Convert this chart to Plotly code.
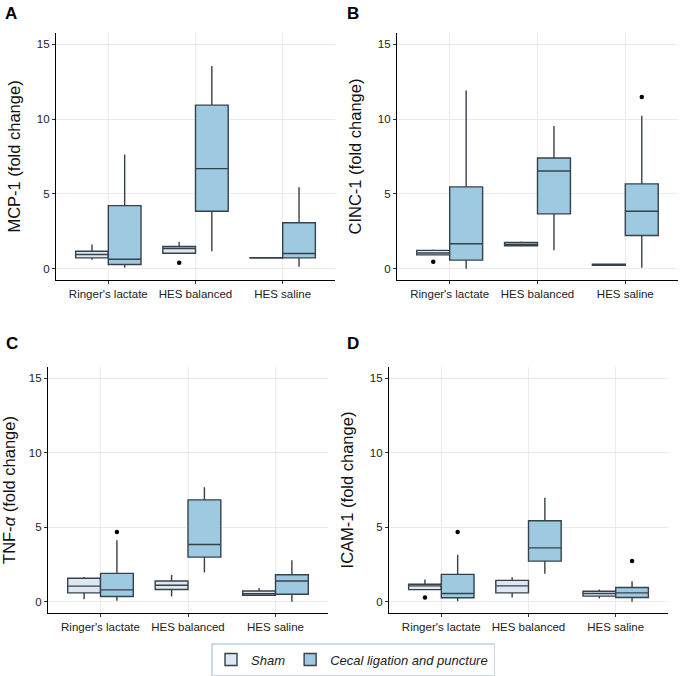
import numpy as np
import plotly.graph_objects as go

# ---------------- data ----------------
categories = ["Ringer's lactate", "HES balanced", "HES saline"]
panels = ["A", "B", "C", "D"]
ytitles = ["MCP-1 (fold change)", "CINC-1 (fold change)",
           "TNF-<i>α</i> (fold change)", "ICAM-1 (fold change)"]

# Sham group stats per panel (lower whisker, q1, median, q3, upper whisker)
sham_lo = [[0.60, 1.04, 0.71], [0.93, 1.53, 0.24], [0.18, 0.36, 0.44], [0.82, 0.29, 0.22]]
sham_q1 = [[0.73, 1.04, 0.71], [0.93, 1.53, 0.24], [0.60, 0.83, 0.44], [0.82, 0.60, 0.38]]
sham_med = [[0.95, 1.35, 0.72], [1.05, 1.62, 0.27], [1.05, 1.11, 0.55], [1.07, 1.07, 0.56]]
sham_q3 = [[1.17, 1.49, 0.74], [1.23, 1.76, 0.30], [1.58, 1.40, 0.73], [1.18, 1.44, 0.71]]
sham_hi = [[1.62, 1.80, 0.74], [1.29, 1.83, 0.30], [1.67, 1.80, 0.93], [1.49, 1.64, 0.82]]

# CLP group stats per panel
clp_lo = [[0.07, 1.17, 0.13], [0.00, 1.24, 0.07], [0.07, 1.96, 0.00], [0.04, 1.89, 0.00]]
clp_q1 = [[0.29, 3.84, 0.73], [0.58, 3.67, 2.22], [0.36, 3.00, 0.51], [0.27, 2.73, 0.29]]
clp_med = [[0.64, 6.69, 1.02], [1.67, 6.53, 3.84], [0.80, 3.84, 1.40], [0.56, 3.62, 0.60]]
clp_q3 = [[4.22, 10.93, 3.07], [5.47, 7.40, 5.67], [1.91, 6.84, 1.82], [1.84, 5.44, 0.96]]
clp_hi = [[7.64, 13.55, 5.44], [11.91, 9.53, 10.22], [4.13, 7.69, 2.78], [3.16, 6.98, 1.38]]

# Outliers: (category index, value)
sham_out_cat = [[1], [0], [], [0]]
sham_out_val = [[0.40], [0.47], [], [0.29]]
clp_out_cat = [[], [2], [0], [0, 2]]
clp_out_val = [[], [11.47], [4.69], [4.69, 2.73]]

yticks = [0, 5, 10, 15]

# ---------------- style ----------------
FONT = "Liberation Sans, Arial, sans-serif"
SHAM_FILL = "#dde8f3"
CLP_FILL = "#9ecae1"
EDGE = "#37414a"
BOX_W = 0.375
DODGE = BOX_W / 2

W, H = 680, 676
# pixel domains (left, right, top, bottom) of each panel
dom_px = [(56, 335, 33, 280), (397, 678, 33, 280),
          (48, 328, 367, 613), (389, 668, 367, 613)]
label_px = [(11, 13), (353, 13), (12, 343), (353, 343)]

fig = go.Figure()
cat_idx = np.arange(1, len(categories) + 1)

for p in range(4):
    sfx = "" if p == 0 else str(p + 1)
    xa, ya = "x" + sfx, "y" + sfx
    fig.add_trace(go.Box(
        x=list(cat_idx - DODGE), q1=sham_q1[p], median=sham_med[p], q3=sham_q3[p],
        lowerfence=sham_lo[p], upperfence=sham_hi[p], width=BOX_W,
        fillcolor=SHAM_FILL, line=dict(color=EDGE, width=1.4), whiskerwidth=0,
        boxpoints=False, name="Sham", legendgroup="sham", showlegend=(p == 0),
        xaxis=xa, yaxis=ya, hoverinfo="skip"))
    fig.add_trace(go.Box(
        x=list(cat_idx + DODGE), q1=clp_q1[p], median=clp_med[p], q3=clp_q3[p],
        lowerfence=clp_lo[p], upperfence=clp_hi[p], width=BOX_W,
        fillcolor=CLP_FILL, line=dict(color=EDGE, width=1.4), whiskerwidth=0,
        boxpoints=False, name="Cecal ligation and puncture", legendgroup="clp",
        showlegend=(p == 0), xaxis=xa, yaxis=ya, hoverinfo="skip"))
    if sham_out_val[p]:
        fig.add_trace(go.Scatter(
            x=[cat_idx[i] - DODGE for i in sham_out_cat[p]], y=sham_out_val[p],
            mode="markers", marker=dict(color="black", size=4.5),
            showlegend=False, xaxis=xa, yaxis=ya, hoverinfo="skip"))
    if clp_out_val[p]:
        fig.add_trace(go.Scatter(
            x=[cat_idx[i] + DODGE for i in clp_out_cat[p]], y=clp_out_val[p],
            mode="markers", marker=dict(color="black", size=4.5),
            showlegend=False, xaxis=xa, yaxis=ya, hoverinfo="skip"))

layout = dict(
    width=W, height=H, margin=dict(l=0, r=0, t=0, b=0),
    paper_bgcolor="white", plot_bgcolor="white",
    font=dict(family=FONT, color="#222"),
    showlegend=True,
    legend=dict(orientation="h", x=353 / W, xanchor="center",
                y=1 - 643 / H, yanchor="top",
                bordercolor="#c9dbe8", borderwidth=1.5,
                font=dict(size=13, family=FONT, color="#222", style="italic"),
                itemwidth=30, tracegroupgap=0),
)
annotations = []
for p in range(4):
    sfx = "" if p == 0 else str(p + 1)
    l, r, t, b = dom_px[p]
    layout["xaxis" + sfx] = dict(
        domain=[l / W, r / W], anchor="y" + sfx, range=[0.4, 3.6],
        tickvals=list(cat_idx), ticktext=categories,
        showline=True, linecolor="black", linewidth=1.2,
        ticks="outside", ticklen=3, tickcolor="#333", tickwidth=1,
        showgrid=True, gridcolor="#ebebeb", gridwidth=1, zeroline=False,
        tickfont=dict(size=11.5, color="#222"))
    layout["yaxis" + sfx] = dict(
        domain=[1 - b / H, 1 - t / H], anchor="x" + sfx, range=[-0.75, 15.75],
        tickvals=yticks, showline=True, linecolor="black", linewidth=1.2,
        ticks="outside", ticklen=3, tickcolor="#333", tickwidth=1,
        showgrid=True, gridcolor="#ebebeb", gridwidth=1, zeroline=False,
        tickfont=dict(size=11.5, color="#222"),
        title=dict(text=ytitles[p], font=dict(size=16.5, color="#111"), standoff=12))
    lx, ly = label_px[p]
    annotations.append(dict(text="<b>" + panels[p] + "</b>", x=lx / W, y=1 - ly / H,
                            xref="paper", yref="paper", showarrow=False,
                            xanchor="center", yanchor="middle",
                            font=dict(size=17, color="black", family=FONT)))
layout["annotations"] = annotations
fig.update_layout(**layout)

fig.write_html("out.html", config={"displayModeBar": False},
               post_script="document.body.style.margin='0';document.body.style.overflow='hidden';")
